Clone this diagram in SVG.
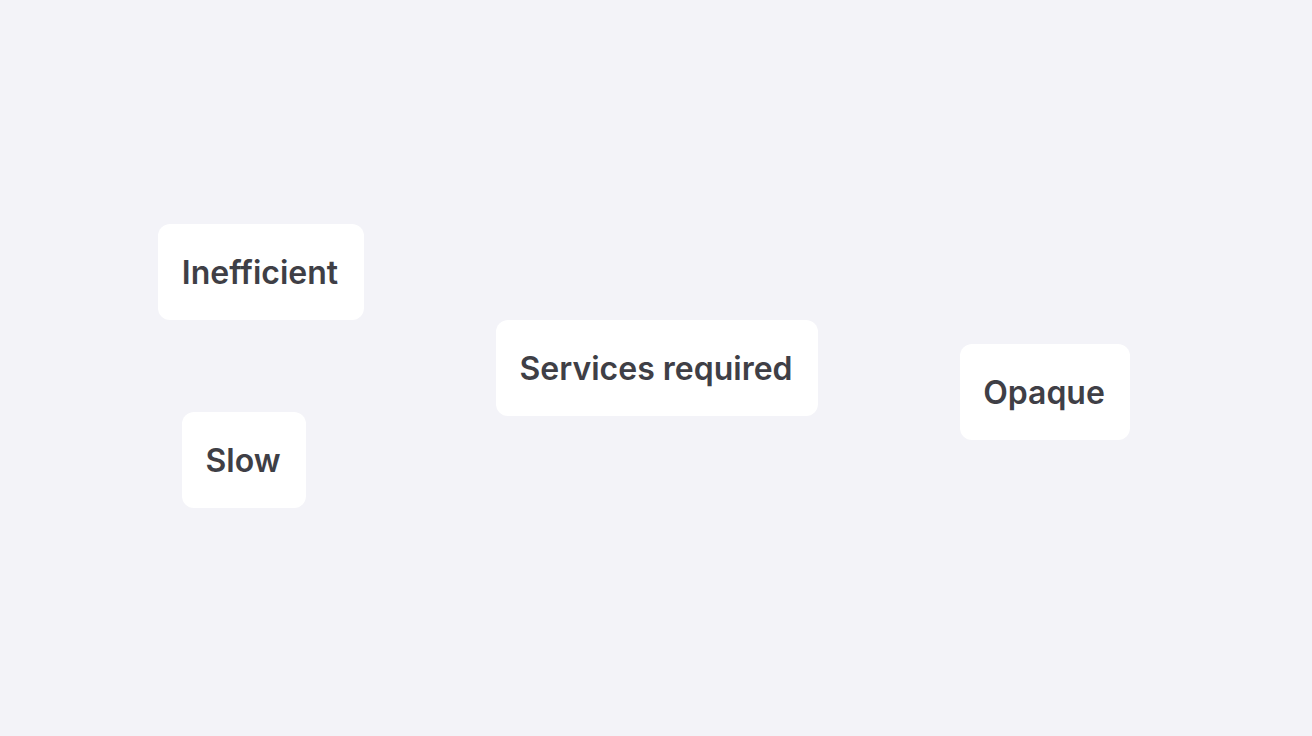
<svg xmlns="http://www.w3.org/2000/svg" width="1312" height="736" viewBox="0 0 1312 736">
<style>
.box{fill:#ffffff}
.lbl{font-family:Inter,"Noto Sans",sans-serif;font-weight:600;font-size:32px;fill:#3f3f46;text-anchor:middle;dominant-baseline:central;font-variant-ligatures:none}
</style>
<rect x="0" y="0" width="1312" height="736" fill="#f3f3f8"/>
<g id="connectors"></g>
<g id="node-inefficient"><rect class="box" x="158" y="224" width="206" height="96" rx="12"/><text class="lbl" x="260" y="272">Inefficient</text></g>
<g id="node-services"><rect class="box" x="496" y="320" width="322" height="96" rx="12"/><text class="lbl" x="656" y="368">Services required</text></g>
<g id="node-slow"><rect class="box" x="182" y="412" width="124" height="96" rx="12"/><text class="lbl" x="243" y="460">Slow</text></g>
<g id="node-opaque"><rect class="box" x="960" y="344" width="170" height="96" rx="12"/><text class="lbl" x="1044" y="392">Opaque</text></g>
</svg>
